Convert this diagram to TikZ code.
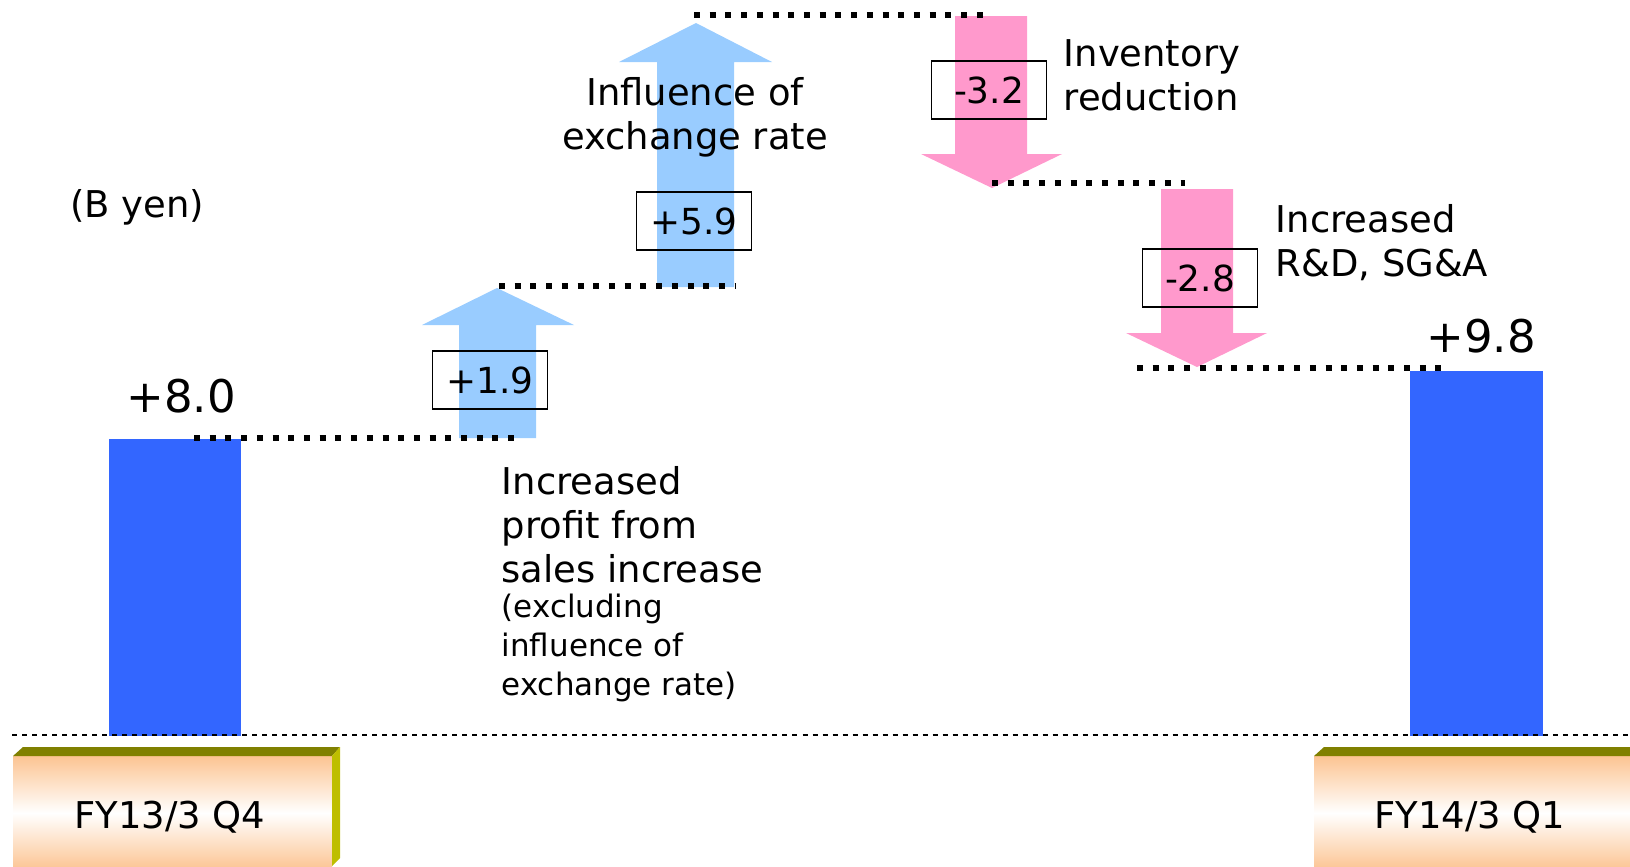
\documentclass[tikz,border=0pt]{standalone}
\usepackage{fontspec}
\setmainfont{DejaVu Sans}
\definecolor{barblue}{RGB}{51,102,255}
\definecolor{upblue}{RGB}{153,204,255}
\definecolor{downpink}{RGB}{255,153,204}
\definecolor{peach}{RGB}{252,196,146}
\definecolor{olivetop}{RGB}{128,128,0}
\definecolor{oliveside}{RGB}{190,190,0}
\tikzset{
  dotline/.style={line width=0.06cm, dash pattern=on 0.06cm off 0.097cm},
  baseline/.style={line width=0.015cm, dash pattern=on 0.05cm off 0.05cm},
  valbox/.style={draw, line width=0.015cm, minimum width=1.15cm, minimum height=0.58cm, inner sep=0pt, font=\fontsize{10.2}{12}\selectfont},
  txt/.style={inner sep=0pt, align=left, font=\fontsize{10.5}{12.5}\selectfont},
  smalltxt/.style={inner sep=0pt, align=left, font=\fontsize{8.8}{11.1}\selectfont},
  bigtxt/.style={inner sep=0pt, font=\fontsize{12.8}{15}\selectfont}
}
\begin{document}
\begin{tikzpicture}[x=0.01cm, y=-0.01cm]
    \useasboundingbox (0,0) rectangle (1630,866);
    % period boxes
    \shade [top color=peach, bottom color=peach, middle color=white] (13,756) rectangle (332,870);
    \fill [olivetop] (13,756) -- (23,747) -- (340,747) -- (332,756) -- cycle;
    \fill [oliveside] (332,756) -- (340,747) -- (340,858) -- (332,866) -- cycle;
    \shade [top color=peach, bottom color=peach, middle color=white] (1314,756) rectangle (1640,870);
    \fill [olivetop] (1314,756) -- (1324,747) -- (1640,747) -- (1640,756) -- cycle;
    \node [txt] (q4) at (170,817) {FY13/3 Q4};
    \node [txt] (q1) at (1470,817) {FY14/3 Q1};
    % bars
    \fill [barblue] (109,439) rectangle (241,736);
    \fill [barblue] (1410,371) rectangle (1543,736);
    \draw [baseline] (12,735) -- (1630,735);
    % arrows
    \fill [upblue] (459,438) -- (459,325) -- (422,325) -- (497,288) -- (574,325) -- (536,325) -- (536,438) -- cycle;
    \fill [upblue] (657,287) -- (657,62) -- (619,62) -- (696,23) -- (772,62) -- (734,62) -- (734,287) -- cycle;
    \fill [downpink] (955,16) -- (955,154) -- (921,154) -- (992,188) -- (1062,154) -- (1027,154) -- (1027,16) -- cycle;
    \fill [downpink] (1161,189) -- (1161,333) -- (1126,333) -- (1197,367) -- (1267,333) -- (1233,333) -- (1233,189) -- cycle;
    % levels
    \draw [dotline] (194,438) -- (522,438);
    \draw [dotline] (499,286) -- (736,286);
    \draw [dotline] (694,15) -- (988,15);
    \draw [dotline] (992,183) -- (1185,183);
    \draw [dotline] (1137,368) -- (1448,368);
    % values
    \node [valbox] (d19) at (490,380) {+1.9};
    \node [valbox] (d59) at (694,221) {+5.9};
    \node [valbox] (d32) at (989,90) {-3.2};
    \node [valbox] (d28) at (1200,278) {-2.8};
    \node [bigtxt] (v80) at (181,396) {+8.0};
    \node [bigtxt] (v98) at (1481,336) {+9.8};
    \node [txt] (unit) at (137,207) {(B yen)};
    % captions
    \node [txt, align=center] (fx) at (695,117) {Influence of\\exchange rate};
    \node [txt, anchor=west] (inv) at (1063,75) {Inventory\\reduction};
    \node [txt, anchor=west] (rnd) at (1275,243) {Increased\\R\&D, SG\&A};
    \node [txt, anchor=west] (sales) at (501,525) {Increased\\profit from\\sales increase};
    \node [smalltxt, anchor=west] (excl) at (501,648) {(excluding\\influence of\\exchange rate)};
\end{tikzpicture}
\end{document}
